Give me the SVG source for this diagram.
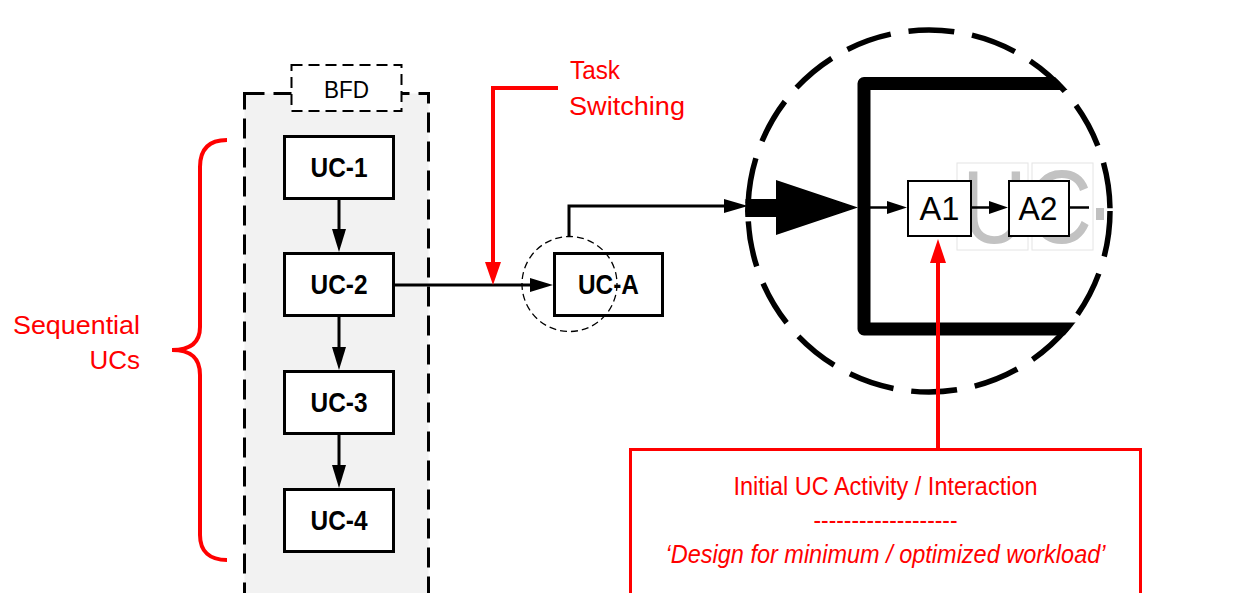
<svg xmlns="http://www.w3.org/2000/svg" width="1244" height="593" viewBox="0 0 1244 593">
<style>
.box{fill:#ffffff;stroke:#000;stroke-width:3}
.lbl{font-family:"Liberation Sans",Arial,sans-serif;font-weight:bold;font-size:28px;fill:#000;text-anchor:middle}
.red{font-family:"Liberation Sans",Arial,sans-serif;font-size:26px;fill:#ff0000}
.ln{fill:none;stroke:#000;stroke-width:3}
.rl{fill:none;stroke:#ff0000;stroke-width:4}
.ah{fill:#000}
.rah{fill:#ff0000}
</style>
<defs>
<clipPath id="zc"><circle cx="929" cy="211" r="184"/></clipPath>
</defs>
<rect width="1244" height="593" fill="#ffffff"/>

<g id="bfd">
<rect x="244.5" y="93.5" width="184" height="520" fill="#f2f2f2" stroke="#000" stroke-width="3" stroke-dasharray="20 9"/>
<rect x="291.5" y="65" width="110" height="46" fill="#ffffff" stroke="#000" stroke-width="2" stroke-dasharray="11 6"/>
<text x="346.5" y="98" font-family="Liberation Sans,Arial,sans-serif" font-size="23" text-anchor="middle" textLength="45" lengthAdjust="spacingAndGlyphs">BFD</text>
</g>

<g id="uc1"><rect class="box" x="284.5" y="136.5" width="109" height="62"/><text class="lbl" x="339" y="177" textLength="57" lengthAdjust="spacingAndGlyphs">UC-1</text></g>
<g id="uc2"><rect class="box" x="284.5" y="253.5" width="109" height="62"/><text class="lbl" x="339" y="294" textLength="57" lengthAdjust="spacingAndGlyphs">UC-2</text></g>
<g id="uc3"><rect class="box" x="284.5" y="371.5" width="109" height="62"/><text class="lbl" x="339" y="412" textLength="57" lengthAdjust="spacingAndGlyphs">UC-3</text></g>
<g id="uc4"><rect class="box" x="284.5" y="489.5" width="109" height="62"/><text class="lbl" x="339" y="530" textLength="57" lengthAdjust="spacingAndGlyphs">UC-4</text></g>

<g id="uca"><rect class="box" x="554.5" y="253.5" width="108" height="62"/><text class="lbl" x="608.5" y="294" textLength="61" lengthAdjust="spacingAndGlyphs">UC-A</text></g>
<g id="switch-circle"><circle cx="569.5" cy="284" r="47.5" fill="none" stroke="#000" stroke-width="1.3" stroke-dasharray="7 4"/></g>

<g id="sequential">
<path class="rl" d="M227,140 C210,140 200,148 200,167 L200,327 C200,343 190,350 172,350 C190,350 200,357 200,375 L200,535 C200,552 210,560 227,560"/>
<text class="red" x="140" y="334" text-anchor="end" textLength="127" lengthAdjust="spacingAndGlyphs">Sequential</text>
<text class="red" x="140" y="369" text-anchor="end">UCs</text>
</g>

<g id="task-switching">
<text class="red" x="570" y="79" textLength="50" lengthAdjust="spacingAndGlyphs">Task</text>
<text class="red" x="569" y="115" textLength="116" lengthAdjust="spacingAndGlyphs">Switching</text>
</g>

<g id="zoom">
<g clip-path="url(#zc)">
<text x="962" y="243" font-family="Liberation Sans,Arial,sans-serif" font-size="104" fill="#c2c2c2" textLength="130" lengthAdjust="spacingAndGlyphs">UC</text>
<rect x="1096" y="208" width="8" height="12" fill="#c0c0c0"/>
<rect x="957" y="163" width="71" height="87" fill="none" stroke="#e4e4e4" stroke-width="1"/>
<rect x="1032" y="163" width="61" height="87" fill="none" stroke="#e4e4e4" stroke-width="1"/>
<path d="M1110,83.5 H864 V329 H1110" fill="none" stroke="#000" stroke-width="13" stroke-linejoin="round"/>
<polygon points="744,199 776,199 776,180 858,207.5 776,235 776,217 744,217" fill="#000"/>
<line x1="870" y1="207.5" x2="889" y2="207.5" stroke="#000" stroke-width="2.5"/>
<polygon points="887,201 887,214 907,207.5" fill="#000"/>
<line x1="972" y1="207.5" x2="991" y2="207.5" stroke="#000" stroke-width="2.5"/>
<polygon points="989,201 989,214 1008,207.5" fill="#000"/>
<line x1="1070" y1="207.5" x2="1089" y2="207.5" stroke="#000" stroke-width="2.5"/>
</g>
<circle cx="929" cy="211" r="181" fill="none" stroke="#000" stroke-width="5.5" stroke-dasharray="46 18"/>
</g>

<g id="a1"><rect x="908" y="181" width="63" height="55" fill="#ffffff" stroke="#000" stroke-width="2"/><text x="939.5" y="220" font-family="Liberation Sans,Arial,sans-serif" font-size="33" text-anchor="middle" textLength="40" lengthAdjust="spacingAndGlyphs">A1</text></g>
<g id="a2"><rect x="1009" y="181" width="60" height="55" fill="#ffffff" stroke="#000" stroke-width="2"/><text x="1038" y="220" font-family="Liberation Sans,Arial,sans-serif" font-size="33" text-anchor="middle" textLength="39" lengthAdjust="spacingAndGlyphs">A2</text></g>

<g id="note">
<rect x="630.5" y="449.5" width="510" height="160" fill="#ffffff" stroke="#ff0000" stroke-width="3"/>
<text class="red" x="885.5" y="495" font-size="27" text-anchor="middle" textLength="304" lengthAdjust="spacingAndGlyphs">Initial UC Activity / Interaction</text>
<text class="red" x="885.5" y="529" font-size="27" text-anchor="middle" textLength="144" lengthAdjust="spacingAndGlyphs">-------------------</text>
<text class="red" x="885.5" y="563" font-size="27" font-style="italic" text-anchor="middle" textLength="440" lengthAdjust="spacingAndGlyphs">‘Design for minimum / optimized workload’</text>
</g>

<g id="connectors">
<line class="ln" x1="339" y1="200" x2="339" y2="231"/><polygon class="ah" points="332,229 346,229 339,252"/>
<line class="ln" x1="339" y1="317" x2="339" y2="349"/><polygon class="ah" points="332,347 346,347 339,370"/>
<line class="ln" x1="339" y1="435" x2="339" y2="467"/><polygon class="ah" points="332,465 346,465 339,488"/>
<line class="ln" x1="395" y1="285" x2="532" y2="285"/><polygon class="ah" points="530,278 530,292 553,285"/>
<polyline class="ln" points="569,237 569,206 726,206"/><polygon class="ah" points="724,199 724,213 748,206"/>
<polyline class="rl" points="558,88 493,88 493,264"/><polygon class="rah" points="485,262 501,262 493,285"/>
<line class="rl" x1="938" y1="448" x2="938" y2="261"/><polygon class="rah" points="930,263 946,263 938,239"/>
</g>
</svg>
